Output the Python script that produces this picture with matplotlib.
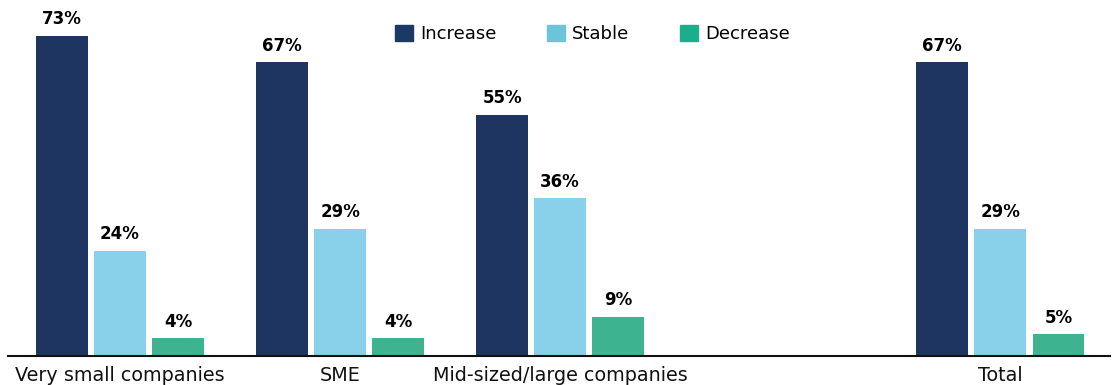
import numpy as np
import matplotlib.pyplot as plt
from matplotlib.patches import Patch

categories = ['Very small companies', 'SME', 'Mid-sized/large companies', 'Total']
slots = [0, 1, 2, 4]
increase = [73, 67, 55, 67]
stable = [24, 29, 36, 29]
decrease = [4, 4, 9, 5]

series = [('Increase', increase, '#1f3561', '#1b3a63'),
          ('Stable', stable, '#89d0ea', '#6cc4d8'),
          ('Decrease', decrease, '#3db38f', '#1aaf8a')]

plt.rcParams['font.family'] = ['DejaVu Sans']

fig = plt.figure(figsize=(11.16, 3.85), dpi=100)
ax = fig.add_axes([0.007, 0.0753, 0.988, 0.9247])

width = 0.236
step = 0.264
x = np.array(slots, dtype=float)
for i, (name, vals, col, _) in enumerate(series):
    pos = x + (i - 1) * step
    ax.bar(pos, vals, width, color=col)
    for p, v in zip(pos, vals):
        ax.text(p, v + 1.7, f'{v}%', ha='center', va='bottom',
                fontsize=12, fontweight='bold', color='black')

ax.set_xlim(-0.51, 4.5)
ax.set_ylim(0, 81.2)
ax.set_xticks(x)
ax.set_xticklabels(categories, fontsize=13.8, color='#111111')
ax.tick_params(axis='x', length=0, pad=7)
ax.set_yticks([])
for s in ['top', 'right', 'left']:
    ax.spines[s].set_visible(False)
ax.spines['bottom'].set_linewidth(1.5)
ax.spines['bottom'].set_color('#111111')

handles = [Patch(color=lc, label=name) for name, _, _, lc in series]
ax.legend(handles=handles, loc='center', bbox_to_anchor=(0.53, 0.905),
          ncol=3, frameon=False, fontsize=13, handlelength=1.0,
          handleheight=1.0, handletextpad=0.4, columnspacing=2.8)

fig.savefig('out.png', dpi=100)
